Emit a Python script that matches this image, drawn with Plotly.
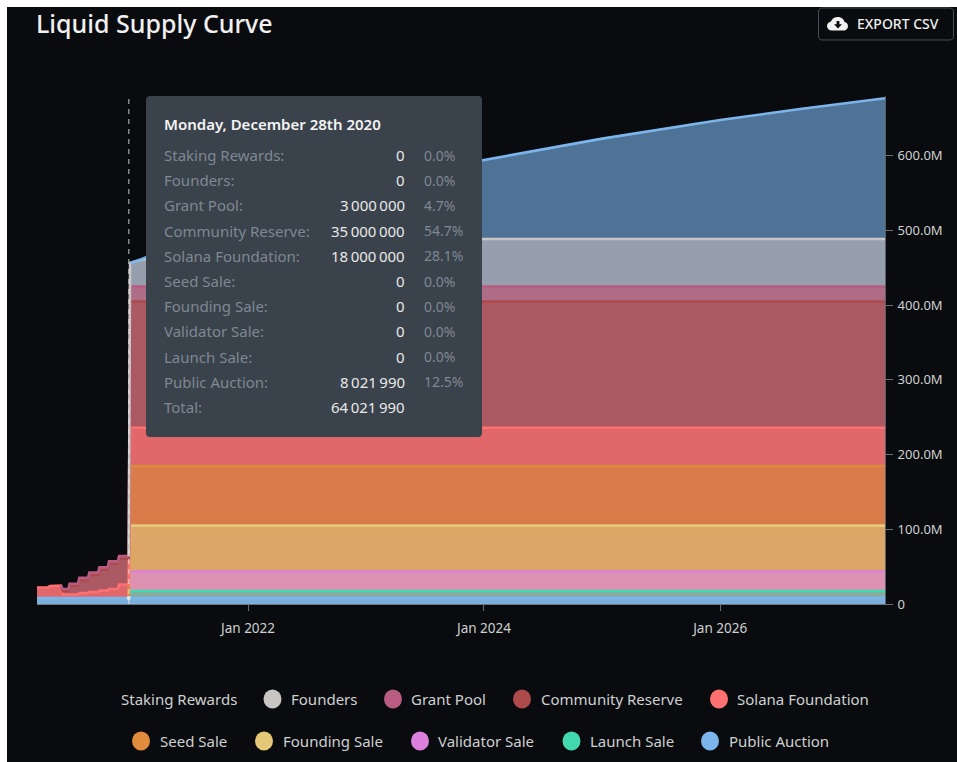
import plotly.graph_objects as go
import numpy as np

# ---------- data (values in millions unless noted) ----------
DATES = ["2020-03-19", "2020-04-22", "2020-04-28", "2020-06-01", "2020-06-07", "2020-06-24",
         "2020-06-28", "2020-07-24", "2020-07-28", "2020-08-24", "2020-08-28", "2020-09-24",
         "2020-09-28", "2020-10-24", "2020-10-28", "2020-11-24", "2020-11-28", "2020-12-28",
         "2021-01-01", "2021-02-05", "2021-06-01", "2022-01-01", "2023-01-01", "2023-12-15",
         "2024-09-20", "2025-01-01", "2026-01-01", "2026-09-05", "2027-05-26"]

public_auction = [8.02] * 29
launch_sale = [0] * 18 + [9.4] * 11
validator_sale = [0] * 18 + [26.0] * 11
founding_sale = [0] * 18 + [61.5] * 11
seed_sale = [0] * 18 + [79.7] * 11
solana_foundation = [14, 14.5, 16, 16.5, 4.7, 4.7, 4.7, 4.7, 6.7, 6.7, 8, 8, 10, 10, 12, 12, 18, 18] + [51.3] * 11
community_reserve = [0, 0, 0, 0, 4.3, 4.3, 11.3, 11.3, 17.3, 17.3, 23, 23, 28, 28, 34, 34, 35, 35] + [169.0] * 11
grant_pool = [0, 0, 0, 0] + [3] * 14 + [20.0] * 11
founders = [0] * 18 + [31.5, 36, 42, 48, 56, 63.6, 63.6, 63.6, 63.6, 63.6, 63.6]
staking_rewards = [0] * 19 + [0.5, 15, 35, 70, 104.4, 126.4, 134.4, 159.4, 174.0, 188.4]

SERIES_BOTTOM_UP = [
    ("Public Auction", public_auction),
    ("Launch Sale", launch_sale),
    ("Validator Sale", validator_sale),
    ("Founding Sale", founding_sale),
    ("Seed Sale", seed_sale),
    ("Solana Foundation", solana_foundation),
    ("Community Reserve", community_reserve),
    ("Grant Pool", grant_pool),
    ("Founders", founders),
    ("Staking Rewards", staking_rewards),
]

Y_TICKS = [0, 100e6, 200e6, 300e6, 400e6, 500e6, 600e6]
Y_LABELS = ["0", "100.0M", "200.0M", "300.0M", "400.0M", "500.0M", "600.0M"]
X_TICKS = ["2022-01-01", "2024-01-01", "2026-01-01"]
X_LABELS = ["Jan 2022", "Jan 2024", "Jan 2026"]

TOOLTIP_DATE = "2020-12-28"
TOOLTIP_TITLE = "Monday, December 28th 2020"
TOOLTIP_NAMES = ["Staking Rewards", "Founders", "Grant Pool", "Community Reserve", "Solana Foundation",
                 "Seed Sale", "Founding Sale", "Validator Sale", "Launch Sale", "Public Auction"]
TOOLTIP_VALUES = [0, 0, 3000000, 35000000, 18000000, 0, 0, 0, 0, 8021990]

# ---------- styles ----------
LINE = {"Staking Rewards": "#7cb5ec", "Founders": "#c8c5c4", "Grant Pool": "#b85c82",
        "Community Reserve": "#ad4a4c", "Solana Foundation": "#ff7070", "Seed Sale": "#d98a3c",
        "Founding Sale": "#e4c878", "Validator Sale": "#dd80dd", "Launch Sale": "#42d8b0",
        "Public Auction": "#7cb5ec"}
FILL = {"Staking Rewards": "#4f7396", "Founders": "#959fae", "Grant Pool": "#ad6d86",
        "Community Reserve": "#ab5a64", "Solana Foundation": "#e0686b", "Seed Sale": "#da7b4a",
        "Founding Sale": "#dca667", "Validator Sale": "#dd92b2", "Launch Sale": "#86aea0",
        "Public Auction": "#7bb0dd"}

BG = "#090b0e"
FONT = "Noto Sans"
W, H = 957, 762
L, R, T, B = 37, 885, 96, 604


def fx(px):
    return (px - L) / (R - L)


def fy(py):
    return (B - py) / (B - T)


def path(cmds):
    """Convert a list of (letter, x, y, ...) in pixels to a paper-coordinate SVG path."""
    out = []
    for c in cmds:
        if c[0] == "Z":
            out.append("Z")
            continue
        nums = []
        for i in range(1, len(c), 2):
            nums.append(f"{fx(c[i]):.5f} {fy(c[i + 1]):.5f}")
        out.append(c[0] + " " + " ".join(nums))
    return " ".join(out)


def rounded(x0, y0, x1, y1, r):
    return path([("M", x0 + r, y0), ("L", x1 - r, y0), ("Q", x1, y0, x1, y0 + r), ("L", x1, y1 - r),
                 ("Q", x1, y1, x1 - r, y1), ("L", x0 + r, y1), ("Q", x0, y1, x0, y1 - r),
                 ("L", x0, y0 + r), ("Q", x0, y0, x0 + r, y0), ("Z",)])


fig = go.Figure()

# stacked fills
for name, vals in SERIES_BOTTOM_UP:
    fig.add_trace(go.Scatter(x=DATES, y=[v * 1e6 for v in vals], name=name, mode="lines",
                             stackgroup="supply", line=dict(width=0, color=FILL[name]),
                             fillcolor=FILL[name], showlegend=False, hoverinfo="skip"))

# top-edge strokes, drawn over every fill
cum = np.zeros(len(DATES))
for name, vals in SERIES_BOTTOM_UP:
    v = np.array(vals, dtype=float)
    cum = cum + v
    ys = []
    for i in range(len(v)):
        nxt = v[i + 1] if i + 1 < len(v) else v[i]
        ys.append(None if v[i] == 0 and nxt == 0 else cum[i] * 1e6)
    fig.add_trace(go.Scatter(x=DATES, y=ys, mode="lines", line=dict(width=2.6, color=LINE[name]),
                             showlegend=False, hoverinfo="skip", connectgaps=False))

# hover dot on the lowest series
fig.add_trace(go.Scatter(x=[TOOLTIP_DATE], y=[TOOLTIP_VALUES[-1]], mode="markers",
                         marker=dict(size=4, color="#dfe6ee"), showlegend=False, hoverinfo="skip"))

shapes = [
    dict(type="rect", xref="paper", yref="paper", x0=fx(7), x1=fx(W + 2), y0=fy(7), y1=fy(H + 2),
         fillcolor=BG, line_width=0, layer="below"),
    # crosshair
    dict(type="line", xref="x", yref="paper", x0=TOOLTIP_DATE, x1=TOOLTIP_DATE, y0=0, y1=1,
         line=dict(color="rgba(235,235,235,0.65)", width=1.3, dash="5px,5px"), layer="above"),
    # tooltip panel
    dict(type="path", xref="paper", yref="paper", path=rounded(146, 96, 482, 437, 4),
         fillcolor="#3a424b", line_width=0, layer="above"),
    # export button
    dict(type="path", xref="paper", yref="paper", path=rounded(818.5, 8, 953.5, 40, 4),
         fillcolor="rgba(0,0,0,0)", line=dict(color="#4a4d52", width=1), layer="above"),
    dict(type="path", xref="paper", yref="paper",
         path=path([("M", 832, 30.5), ("C", 829, 30.5, 827, 28.5, 827, 26), ("C", 827, 23.5, 829, 21.8, 831, 21.5),
                    ("C", 832, 18.5, 835, 17, 838, 17), ("C", 841.5, 17, 844, 19.5, 844.5, 22),
                    ("C", 846.5, 22.2, 848, 24, 848, 26.2), ("C", 848, 28.8, 846, 30.5, 844, 30.5), ("Z",)]),
         fillcolor="#f2f2f2", line_width=0, layer="above"),
    dict(type="path", xref="paper", yref="paper",
         path=path([("M", 836.6, 21), ("L", 839.4, 21), ("L", 839.4, 24.2), ("L", 842, 24.2), ("L", 838, 28.4),
                    ("L", 834, 24.2), ("L", 836.6, 24.2), ("Z",)]),
         fillcolor=BG, line_width=0, layer="above"),
]

annotations = []


def text(x, y, s, size, color, anchor="left", weight=400):
    annotations.append(dict(xref="paper", yref="paper", x=fx(x), y=fy(y), text=s, showarrow=False,
                            xanchor=anchor, yanchor="middle", borderpad=0,
                            font=dict(family=FONT, size=size, color=color, weight=weight)))


text(35, 23, "Liquid Supply Curve", 25, "#f0f0f0", weight=500)
text(856, 23.5, "EXPORT CSV", 14, "#efefef", weight=500)

# tooltip text
LABEL_C, VALUE_C = "#7f8893", "#e9e9e9"
text(163, 123.5, TOOLTIP_TITLE, 15, "#f4f4f4", weight=600)


def spaced(n):
    return f"{n:,}".replace(",", "\u2009")


total = sum(TOOLTIP_VALUES)
row_y = [155 + 25.2 * i for i in range(11)]
for i, (n, v) in enumerate(zip(TOOLTIP_NAMES, TOOLTIP_VALUES)):
    text(163, row_y[i], n + ":", 15, LABEL_C)
    text(406, row_y[i], spaced(v), 15, VALUE_C, anchor="right")
    text(423, row_y[i], f"{v / total * 100:.1f}%", 14, LABEL_C)
text(163, row_y[10], "Total:", 15, LABEL_C)
text(406, row_y[10], spaced(total), 15, VALUE_C, anchor="right")

# legend
LEGEND_ROWS = [
    (698.5, [("Staking Rewards", None, 120), ("Founders", 272.5, 290), ("Grant Pool", 393, 410),
             ("Community Reserve", 522, 540), ("Solana Foundation", 719, 736)]),
    (740.5, [("Seed Sale", 141, 159), ("Founding Sale", 264, 282), ("Validator Sale", 420, 437),
             ("Launch Sale", 571.5, 589), ("Public Auction", 710, 728)]),
]
for ly, row in LEGEND_ROWS:
    for name, cx, tx in row:
        text(tx, ly, name, 15, "#cfd0d1")
        if cx is not None:
            shapes.append(dict(type="circle", xref="paper", yref="paper", x0=fx(cx - 9), x1=fx(cx + 9),
                               y0=fy(ly + 10), y1=fy(ly - 9), fillcolor=LINE[name] if name != "Seed Sale" else "#e08c3c",
                               line_width=0, layer="above"))

fig.update_layout(
    width=W, height=H, margin=dict(l=L, r=W - R, t=T, b=H - B, pad=0),
    paper_bgcolor="#ffffff", plot_bgcolor=BG, showlegend=False, hovermode=False,
    font=dict(family=FONT, color="#cfd0d1"), shapes=shapes, annotations=annotations,
    xaxis=dict(type="date", range=["2020-03-19", "2027-05-26"], tickvals=X_TICKS, ticktext=X_LABELS,
               showgrid=False, zeroline=False, ticks="outside", ticklen=6, tickcolor="#6b6e72", tickwidth=1,
               showline=True, linecolor="#6b7680", linewidth=1, ticklabelstandoff=6,
               tickfont=dict(family=FONT, size=13.5, color="#cfd0d1")),
    yaxis=dict(side="right", range=[0, 680e6], tickvals=Y_TICKS, ticktext=Y_LABELS,
               showgrid=False, zeroline=False, ticks="outside", ticklen=7, tickcolor="#6b6e72", tickwidth=1,
               showline=True, linecolor="#5a6068", linewidth=1, ticklabelstandoff=2,
               tickfont=dict(family=FONT, size=13, color="#cfd0d1")),
)

fig.write_html("out.html", config={"displayModeBar": False}, post_script="document.body.style.margin='0';")
